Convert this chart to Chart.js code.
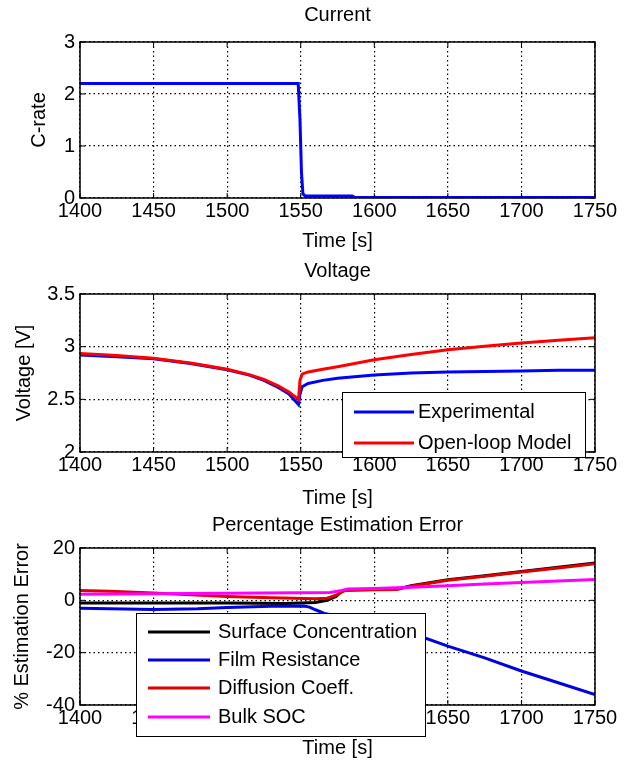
<!DOCTYPE html>
<html>
<head>
<meta charset="utf-8">
<script src="https://cdn.jsdelivr.net/npm/chart.js@4.4.1/dist/chart.umd.min.js"></script>
<style>
  body { margin: 0; background: #fff; }
  .panel { position: absolute; left: 0; width: 626px; }
</style>
</head>
<body>
<div class="panel" style="top:0;height:256px"><canvas id="current"></canvas></div>
<div class="panel" style="top:256px;height:256px"><canvas id="voltage"></canvas></div>
<div class="panel" style="top:512px;height:253px"><canvas id="error"></canvas></div>
<script>
// Current panel
const currentTime = [1400, 1548.3, 1549.5, 1550.5, 1551.5, 1553, 1585, 1587, 1750];
const currentRate = [2.2, 2.2, 1.5, 0.5, 0.08, 0.04, 0.04, 0.01, 0.01];

// Voltage panel
const voltTime = [1400, 1425, 1450, 1475, 1500, 1515, 1525, 1535, 1542, 1548.5, 1549.5, 1551, 1555, 1565, 1575, 1600, 1625, 1650, 1675, 1700, 1725, 1750];
const voltExperimental = [2.92, 2.905, 2.885, 2.84, 2.78, 2.73, 2.68, 2.61, 2.55, 2.45, 2.55, 2.62, 2.65, 2.68, 2.70, 2.73, 2.75, 2.76, 2.765, 2.77, 2.775, 2.775];
const voltModel = [2.935, 2.915, 2.89, 2.845, 2.785, 2.735, 2.69, 2.625, 2.57, 2.50, 2.68, 2.74, 2.76, 2.785, 2.81, 2.875, 2.925, 2.97, 3.005, 3.035, 3.06, 3.085];

// Estimation error panel
const scTime = [1400, 1450, 1500, 1540, 1560, 1568, 1574, 1578, 1582, 1600, 1615, 1625, 1650, 1675, 1700, 1725, 1750];
const scErr = [-1, -1, -1, -1.2, -0.8, 0, 1.5, 3.5, 4, 4.1, 4.2, 5.6, 7.9, 9.4, 11.0, 12.6, 14.3];
const frTime = [1400, 1450, 1480, 1500, 1530, 1552, 1556, 1560, 1566, 1575, 1600, 1625, 1650, 1675, 1700, 1725, 1750];
const frErr = [-3.0, -3.5, -3.2, -2.7, -2.3, -2.2, -2.6, -3.6, -5.0, -6.0, -9.0, -12.5, -17.5, -22.0, -27.0, -31.5, -36.0];
const dcTime = [1400, 1420, 1450, 1500, 1530, 1560, 1568, 1574, 1580, 1600, 1615, 1625, 1650, 1675, 1700, 1725, 1750];
const dcErr = [3.8, 3.5, 2.8, 1.5, 1.0, 0.6, 0.8, 2.0, 3.8, 4.0, 4.1, 5.4, 7.7, 9.2, 10.8, 12.4, 14.0];
const socTime = [1400, 1450, 1500, 1550, 1570, 1578, 1582, 1600, 1625, 1650, 1675, 1700, 1725, 1750];
const socErr = [2.3, 2.5, 2.7, 2.9, 3.0, 3.8, 4.3, 4.5, 5.0, 5.6, 6.2, 6.8, 7.4, 8.0];

const font = { family: "'Liberation Sans', Arial, sans-serif", size: 20, weight: 'normal' };

function pts(xs, ys) {
    return xs.map((x, i) => ({ x: x, y: ys[i] }));
}

function line(label, xs, ys, color, order) {
    return { label, data: pts(xs, ys), borderColor: color, borderWidth: 3,
        pointRadius: 0, tension: 0, fill: false, order: order };
}

// box, inward ticks and the legend drawn inside the axes
const matlabAxes = {
    id: 'matlabAxes',
    afterDraw(chart, args, opts) {
        const { ctx, chartArea: a, scales: { x, y } } = chart;
        ctx.save();
        ctx.strokeStyle = '#000';
        ctx.lineWidth = 1;
        ctx.beginPath();
        x.ticks.forEach(t => {
            const px = x.getPixelForValue(t.value);
            ctx.moveTo(px, a.bottom); ctx.lineTo(px, a.bottom - 5);
            ctx.moveTo(px, a.top); ctx.lineTo(px, a.top + 5);
        });
        y.ticks.forEach(t => {
            const py = y.getPixelForValue(t.value);
            ctx.moveTo(a.left, py); ctx.lineTo(a.left + 5, py);
            ctx.moveTo(a.right, py); ctx.lineTo(a.right - 5, py);
        });
        ctx.stroke();
        ctx.lineWidth = 1.5;
        ctx.strokeRect(a.left, a.top, a.right - a.left, a.bottom - a.top);

        const lg = opts.legend;
        if (lg) {
            const [x0, y0, x1, y1] = lg.box;
            ctx.fillStyle = '#fff';
            ctx.fillRect(x0, y0, x1 - x0, y1 - y0);
            ctx.lineWidth = 1;
            ctx.strokeRect(x0 + 0.5, y0 + 0.5, x1 - x0, y1 - y0);
            ctx.font = font.size + 'px ' + font.family;
            ctx.textBaseline = 'middle';
            ctx.textAlign = 'left';
            chart.data.datasets.forEach((ds, i) => {
                const ry = lg.rows[i];
                ctx.strokeStyle = ds.borderColor;
                ctx.lineWidth = 3;
                ctx.beginPath();
                ctx.moveTo(lg.lineX[0], ry); ctx.lineTo(lg.lineX[1], ry);
                ctx.stroke();
                ctx.fillStyle = '#000';
                ctx.fillText(ds.label, lg.textX, ry);
            });
        }
        ctx.restore();
    }
};
Chart.register(matlabAxes);

function axesOptions(p) {
    return {
        responsive: true,
        maintainAspectRatio: false,
        animation: false,
        layout: { padding: { left: 0, right: 31, top: 0, bottom: 0 } },
        plugins: {
            legend: { display: false },
            tooltip: { enabled: false },
            title: { display: true, text: p.title, color: '#000', font, fullSize: false, padding: p.titlePad },
            matlabAxes: { legend: p.legend }
        },
        scales: {
            x: {
                type: 'linear', min: 1400, max: 1750,
                ticks: { stepSize: 50, color: '#000', font, padding: 1, maxRotation: 0, autoSkip: false, callback: v => String(v) },
                grid: { color: '#000', lineWidth: 1.2, drawTicks: false },
                border: { display: false, dash: [1.5, 3] },
                title: { display: true, text: 'Time [s]', color: '#000', font, padding: { top: 0, bottom: p.xTitlePad } },
                afterFit: s => { s.height = p.xHeight; }
            },
            y: {
                min: p.yMin, max: p.yMax,
                ticks: { stepSize: p.yStep, color: '#000', font, padding: 5, callback: v => String(v) },
                grid: { color: '#000', lineWidth: 1.2, drawTicks: false },
                border: { display: false, dash: [1.5, 3] },
                title: { display: true, text: p.yTitle, color: '#000', font, padding: { top: p.yTitlePad, bottom: 0 } },
                afterFit: s => { s.width = 80; }
            }
        }
    };
}

new Chart(document.getElementById('current'), {
    type: 'line',
    data: { datasets: [line('Current', currentTime, currentRate, '#0000ff', 0)] },
    options: axesOptions({
        title: 'Current', yTitle: 'C-rate', yMin: 0, yMax: 3, yStep: 1,
        titlePad: { top: 3.5, bottom: 14.5 }, xTitlePad: 3, xHeight: 58, yTitlePad: 27
    })
});

new Chart(document.getElementById('voltage'), {
    type: 'line',
    data: { datasets: [
        line('Experimental', voltTime, voltExperimental, '#0000ff', 1),
        line('Open-loop Model', voltTime, voltModel, '#ff0000', 0)
    ] },
    options: axesOptions({
        title: 'Voltage', yTitle: 'Voltage [V]', yMin: 2, yMax: 3.5, yStep: 0.5,
        titlePad: { top: 3, bottom: 11 }, xTitlePad: 2, xHeight: 60, yTitlePad: 12,
        legend: { box: [342, 136, 585, 201], lineX: [354, 414], textX: 418, rows: [156, 187] }
    })
});

new Chart(document.getElementById('error'), {
    type: 'line',
    data: { datasets: [
        line('Surface Concentration', scTime, scErr, '#000000', 3),
        line('Film Resistance', frTime, frErr, '#0000e0', 2),
        line('Diffusion Coeff.', dcTime, dcErr, '#e00000', 1),
        line('Bulk SOC', socTime, socErr, '#ff00ff', 0)
    ] },
    options: axesOptions({
        title: 'Percentage Estimation Error', yTitle: '% Estimation Error', yMin: -40, yMax: 20, yStep: 20,
        titlePad: { top: 1, bottom: 11 }, xTitlePad: 5, xHeight: 60, yTitlePad: 10,
        legend: { box: [136, 101, 425, 224], lineX: [148, 210], textX: 218, rows: [120, 148, 176, 205] }
    })
});
</script>
</body>
</html>
